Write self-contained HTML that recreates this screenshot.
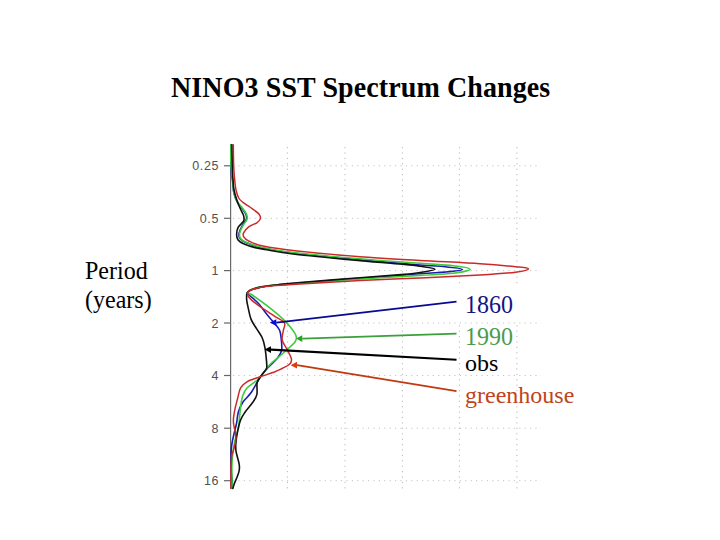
<!DOCTYPE html>
<html><head><meta charset="utf-8"><style>
html,body{margin:0;padding:0;background:#fff;width:720px;height:540px;overflow:hidden}
.lb{position:absolute;right:501px;width:60px;text-align:right;font-family:"Liberation Sans",sans-serif;font-size:12.5px;letter-spacing:0.6px;color:#505050;line-height:16px;white-space:nowrap}
.t{position:absolute;font-family:"Liberation Serif",serif;white-space:nowrap;line-height:1}
</style></head><body>
<svg width="720" height="540" viewBox="0 0 720 540" style="position:absolute;left:0;top:0">
<g stroke="#b8b8b8" stroke-width="1" stroke-dasharray="1.2 4.2" fill="none"><line x1="287.4" y1="147" x2="287.4" y2="492"/><line x1="345.0" y1="147" x2="345.0" y2="492"/><line x1="402.4" y1="147" x2="402.4" y2="492"/><line x1="459.4" y1="147" x2="459.4" y2="492"/><line x1="516.9" y1="147" x2="516.9" y2="492"/></g><g stroke="#c4c4c4" stroke-width="1" stroke-dasharray="1.2 4.2" fill="none"><line x1="233" y1="165.8" x2="541" y2="165.8"/><line x1="233" y1="218.3" x2="541" y2="218.3"/><line x1="233" y1="270.6" x2="541" y2="270.6"/><line x1="233" y1="323.0" x2="541" y2="323.0"/><line x1="233" y1="375.5" x2="541" y2="375.5"/><line x1="233" y1="428.2" x2="541" y2="428.2"/><line x1="233" y1="480.7" x2="541" y2="480.7"/></g>
<rect x="457" y="287" width="90" height="35" fill="#fff"/>
<line x1="230.6" y1="144" x2="230.6" y2="489" stroke="#6a6a6a" stroke-width="1.2"/>
<g stroke="#666" stroke-width="1.2"><line x1="224" y1="165.8" x2="230.6" y2="165.8"/><line x1="224" y1="218.3" x2="230.6" y2="218.3"/><line x1="224" y1="270.6" x2="230.6" y2="270.6"/><line x1="224" y1="323.0" x2="230.6" y2="323.0"/><line x1="224" y1="375.5" x2="230.6" y2="375.5"/><line x1="224" y1="428.2" x2="230.6" y2="428.2"/><line x1="224" y1="480.7" x2="230.6" y2="480.7"/></g>
<path d="M231.2 144.8 C231.1 147.3 230.8 155.5 230.8 160.0 C230.8 164.5 230.9 168.7 231.2 172.0 C231.5 175.3 232.1 176.7 232.5 180.0 C232.9 183.3 232.9 188.3 233.7 192.0 C234.5 195.7 235.8 199.3 237.2 202.0 C238.5 204.7 240.4 206.0 241.8 208.0 C243.2 210.0 245.0 212.4 245.8 214.2 C246.6 216.0 247.0 216.9 246.4 218.9 C245.8 220.9 243.4 223.6 242.2 225.9 C241.0 228.2 239.5 230.8 239.1 232.9 C238.7 235.0 238.8 236.8 239.8 238.3 C240.8 239.9 241.5 240.6 245.3 242.2 C249.1 243.8 254.2 246.2 262.5 248.0 C270.8 249.8 278.8 251.4 295.0 253.3 C311.2 255.2 339.2 257.6 360.0 259.5 C380.8 261.4 405.8 263.8 420.0 265.0 C434.2 266.2 437.9 265.9 445.0 266.7 C452.1 267.4 462.5 268.6 462.5 269.5 C462.5 270.4 452.1 271.4 445.0 272.1 C437.9 272.8 434.2 272.7 420.0 273.8 C405.8 274.8 380.0 276.8 360.0 278.3 C340.0 279.8 314.4 281.8 300.0 283.0 C285.6 284.2 279.8 284.6 273.3 285.3 C266.8 286.0 264.6 286.2 260.8 287.0 C257.1 287.8 253.0 289.0 250.8 290.0 C248.6 291.0 247.8 291.9 247.5 292.8 C247.2 293.7 247.5 293.4 249.3 295.2 C251.1 297.0 255.4 300.1 258.5 303.5 C261.6 306.9 265.2 312.4 267.8 315.6 C270.4 318.9 272.4 320.6 274.3 323.0 C276.2 325.4 278.4 327.5 279.5 330.0 C280.6 332.5 280.7 334.5 281.1 337.8 C281.5 341.1 282.2 346.7 281.7 350.0 C281.1 353.3 279.9 355.0 277.8 357.8 C275.7 360.6 271.5 363.9 268.9 366.7 C266.3 369.5 264.1 371.8 262.2 374.4 C260.2 377.0 259.1 379.0 257.2 382.2 C255.3 385.4 253.0 390.0 250.6 393.3 C248.2 396.6 244.9 399.1 242.8 402.2 C240.8 405.3 239.3 408.7 238.3 412.2 C237.3 415.7 237.3 419.5 236.6 423.0 C235.9 426.5 235.0 429.6 234.2 433.0 C233.4 436.4 232.5 440.2 232.0 443.4 C231.5 446.6 231.2 447.9 231.1 452.3 C231.0 456.7 231.0 465.1 231.2 470.0 C231.4 474.9 232.1 478.9 232.3 482.0 C232.5 485.1 232.5 487.4 232.5 488.5" fill="none" stroke="#1c1cb0" stroke-width="1.6" stroke-linejoin="round" stroke-linecap="round"/>
<path d="M231.0 144.8 C231.0 147.3 230.7 155.5 230.8 160.0 C230.9 164.5 231.2 168.7 231.5 172.0 C231.8 175.3 232.3 176.4 232.7 180.0 C233.1 183.6 233.2 189.6 234.0 193.3 C234.8 197.0 236.2 199.6 237.6 202.0 C239.0 204.4 240.8 206.0 242.3 208.0 C243.8 210.0 245.7 212.4 246.5 214.2 C247.3 216.0 247.7 216.9 247.1 218.9 C246.5 220.9 244.0 223.6 242.8 225.9 C241.6 228.2 240.1 230.8 239.7 232.9 C239.3 235.0 239.4 236.8 240.4 238.3 C241.4 239.9 242.1 240.6 245.9 242.2 C249.7 243.8 254.8 246.0 263.0 247.8 C271.2 249.6 278.8 251.1 295.0 252.9 C311.2 254.8 339.2 257.2 360.0 258.9 C380.8 260.6 404.4 262.1 420.0 263.3 C435.6 264.5 445.0 264.8 453.3 265.8 C461.6 266.8 470.0 267.9 470.0 269.2 C470.0 270.4 461.6 272.3 453.3 273.3 C445.0 274.3 435.6 274.5 420.0 275.4 C404.4 276.3 380.0 277.6 360.0 278.9 C340.0 280.2 313.3 282.4 300.0 283.3 C286.7 284.2 286.2 284.1 280.0 284.6 C273.8 285.1 267.7 285.6 263.0 286.4 C258.3 287.2 254.5 288.3 252.0 289.3 C249.5 290.3 248.0 291.6 248.0 292.5 C248.0 293.4 248.7 292.6 252.2 295.0 C255.7 297.4 263.7 303.1 268.9 307.2 C274.1 311.3 279.5 315.8 283.3 319.4 C287.1 322.9 289.5 326.0 291.5 328.5 C293.5 331.0 294.7 332.8 295.5 334.5 C296.3 336.2 296.5 337.2 296.4 338.5 C296.2 339.8 295.6 341.2 294.6 342.5 C293.6 343.8 291.8 345.2 290.5 346.5 C289.2 347.8 288.8 348.1 286.7 350.0 C284.6 351.9 280.8 355.2 277.8 357.8 C274.8 360.4 272.0 362.2 268.9 365.6 C265.8 369.1 262.6 374.8 259.0 378.5 C255.4 382.2 249.9 384.9 247.2 387.8 C244.5 390.7 243.9 392.5 242.8 395.6 C241.7 398.8 241.2 402.6 240.6 406.7 C240.0 410.8 239.7 416.4 239.3 420.0 C238.9 423.6 239.0 424.7 238.2 428.3 C237.4 431.9 235.6 437.7 234.7 441.7 C233.8 445.7 233.3 448.8 232.9 452.3 C232.5 455.9 232.2 458.1 232.0 463.0 C231.8 467.9 231.9 477.8 232.0 482.0 C232.1 486.2 232.2 487.4 232.3 488.5" fill="none" stroke="#3ccc3c" stroke-width="1.6" stroke-linejoin="round" stroke-linecap="round"/>
<path d="M232.0 144.8 C232.0 147.3 232.1 155.5 232.2 160.0 C232.3 164.5 232.4 168.7 232.5 172.0 C232.6 175.3 232.8 177.0 233.0 180.0 C233.2 183.0 233.4 186.7 234.0 190.0 C234.6 193.3 235.8 197.0 236.8 200.0 C237.8 203.0 238.9 205.6 240.0 208.0 C241.1 210.4 242.5 212.8 243.2 214.5 C243.9 216.2 244.0 216.8 244.0 218.0 C244.0 219.2 244.4 219.9 243.4 221.5 C242.4 223.1 239.2 225.2 238.1 227.4 C237.0 229.6 236.6 232.3 236.6 234.4 C236.6 236.5 236.9 238.3 238.1 239.9 C239.3 241.5 240.8 242.5 243.6 243.8 C246.4 245.1 251.1 246.6 255.2 247.6 C259.3 248.6 261.7 248.9 268.3 250.0 C274.9 251.1 279.7 252.4 295.0 254.2 C310.3 256.0 341.8 258.9 360.0 260.6 C378.2 262.3 394.4 263.5 404.4 264.4 C414.4 265.3 414.9 265.4 420.0 266.2 C425.1 267.1 435.0 268.2 435.0 269.2 C435.0 270.2 425.1 271.6 420.0 272.5 C414.9 273.4 414.4 273.5 404.4 274.4 C394.4 275.3 377.4 276.4 360.0 277.8 C342.6 279.2 314.4 281.3 300.0 282.5 C285.6 283.7 279.8 284.4 273.3 285.2 C266.8 286.0 264.6 286.3 260.8 287.1 C257.1 287.9 253.1 289.0 250.8 290.0 C248.5 291.0 247.8 291.2 247.1 292.9 C246.4 294.6 246.5 297.4 246.7 300.0 C246.9 302.6 247.6 305.1 248.3 308.3 C249.0 311.5 249.7 316.0 251.1 319.4 C252.5 322.8 254.8 325.8 256.7 328.9 C258.6 332.0 260.8 334.6 262.2 337.8 C263.6 341.0 264.4 344.7 265.0 347.8 C265.6 350.9 265.8 353.7 266.1 356.7 C266.4 359.7 266.8 363.9 266.8 366.0 C266.8 368.1 267.0 367.9 266.1 369.4 C265.2 370.9 263.2 372.8 261.7 375.0 C260.2 377.2 258.0 379.3 257.2 382.5 C256.4 385.7 257.6 391.1 256.9 394.4 C256.2 397.7 254.8 399.2 252.8 402.2 C250.8 405.2 247.0 409.2 245.0 412.2 C243.0 415.2 241.9 416.6 240.6 420.0 C239.3 423.4 238.1 428.8 237.3 432.8 C236.5 436.9 236.0 441.2 235.8 444.3 C235.6 447.4 235.7 448.8 236.0 451.2 C236.3 453.6 237.2 456.2 237.8 458.5 C238.4 460.8 239.1 463.0 239.3 465.0 C239.5 467.0 239.5 468.6 239.2 470.5 C238.9 472.4 238.1 474.3 237.3 476.5 C236.5 478.7 235.0 481.8 234.3 483.8 C233.6 485.8 233.1 487.6 232.9 488.3" fill="none" stroke="#111111" stroke-width="1.6" stroke-linejoin="round" stroke-linecap="round"/>
<path d="M233.3 144.8 C233.3 147.3 233.4 155.5 233.5 160.0 C233.6 164.5 233.8 168.7 234.0 172.0 C234.2 175.3 234.4 177.0 234.7 180.0 C235.0 183.0 235.3 187.0 236.0 190.0 C236.7 193.0 237.5 195.9 238.7 198.0 C239.9 200.1 241.3 201.1 243.3 202.7 C245.3 204.3 247.9 205.6 250.5 207.5 C253.1 209.4 257.5 212.3 259.1 214.2 C260.7 216.1 260.7 217.5 260.3 218.9 C259.9 220.3 258.7 221.5 256.8 222.8 C254.9 224.1 251.2 225.0 249.0 226.7 C246.8 228.4 244.5 231.2 243.6 232.9 C242.7 234.6 243.0 235.5 243.8 236.8 C244.6 238.1 245.0 239.1 248.2 240.7 C251.4 242.2 255.2 244.4 263.0 246.1 C270.8 247.8 278.8 249.0 295.0 250.8 C311.2 252.6 339.2 255.1 360.0 256.7 C380.8 258.3 400.0 259.2 420.0 260.4 C440.0 261.6 464.1 262.7 480.0 263.8 C495.9 264.8 507.5 265.9 515.6 266.7 C523.7 267.5 528.5 267.8 528.5 268.7 C528.5 269.6 523.7 271.1 515.6 272.2 C507.5 273.2 495.9 274.1 480.0 275.0 C464.1 275.9 440.0 277.0 420.0 277.9 C400.0 278.8 380.0 279.6 360.0 280.6 C340.0 281.6 314.4 283.1 300.0 284.0 C285.6 284.9 279.8 285.2 273.3 285.8 C266.8 286.4 264.6 286.6 260.8 287.3 C257.1 288.0 253.0 289.2 250.8 290.0 C248.6 290.8 248.1 291.0 247.8 292.2 C247.5 293.4 247.2 295.1 248.9 297.2 C250.6 299.3 253.6 301.9 257.8 305.0 C262.1 308.1 270.0 313.1 274.4 316.1 C278.8 319.1 282.9 320.4 284.4 322.8 C285.9 325.2 283.7 327.7 283.3 330.6 C282.9 333.5 281.6 336.9 282.2 340.0 C282.8 343.1 285.2 345.8 286.7 348.9 C288.2 352.0 290.9 356.3 291.4 358.9 C291.9 361.5 291.1 362.7 289.5 364.3 C287.9 365.9 284.4 367.3 282.0 368.5 C279.6 369.7 278.8 370.2 275.0 371.7 C271.2 373.1 263.7 375.5 259.0 377.2 C254.3 378.9 250.1 380.0 247.0 381.8 C243.9 383.6 242.1 385.1 240.6 387.8 C239.1 390.5 238.7 394.3 237.8 397.8 C236.9 401.3 235.7 405.5 235.0 408.9 C234.3 412.3 233.7 415.5 233.5 418.0 C233.3 420.5 233.3 421.7 233.6 424.0 C233.9 426.3 234.9 429.3 235.3 432.0 C235.7 434.7 236.0 437.2 235.8 440.0 C235.6 442.8 234.7 445.7 234.0 448.5 C233.3 451.3 232.1 453.2 231.6 456.8 C231.1 460.4 231.1 464.7 231.0 470.0 C230.9 475.3 231.0 485.4 231.0 488.5" fill="none" stroke="#cc2a2a" stroke-width="1.5" stroke-linejoin="round" stroke-linecap="round"/>
<line x1="456.5" y1="301.7" x2="276.3" y2="322.6" stroke="#0a0a90" stroke-width="1.7"/><polygon points="269.8,322.6 276.3,319.2 276.3,326.0" fill="#0a0ae0"/>
<line x1="456.5" y1="333.6" x2="302.3" y2="338.6" stroke="#3aa03a" stroke-width="1.7"/><polygon points="296.0,338.6 302.3,335.2 302.3,342.0" fill="#2aa02a"/>
<line x1="456.5" y1="359.8" x2="271.0" y2="349.6" stroke="#000000" stroke-width="2.1"/><polygon points="264.5,349.6 271.0,346.2 271.0,353.0" fill="#000000"/>
<line x1="456.5" y1="391.2" x2="297.0" y2="365.2" stroke="#c03a10" stroke-width="1.7"/><polygon points="290.6,365.2 297.0,361.8 297.0,368.6" fill="#e03a10"/>
</svg>
<div class="lb" style="top:158.4px">0.25</div>
<div class="lb" style="top:210.9px">0.5</div>
<div class="lb" style="top:263.2px">1</div>
<div class="lb" style="top:315.6px">2</div>
<div class="lb" style="top:368.1px">4</div>
<div class="lb" style="top:420.8px">8</div>
<div class="lb" style="top:473.3px">16</div>
<div class="t" style="left:171px;top:72.9px;font-size:28px;font-weight:bold;color:#000;letter-spacing:0.1px;transform:scaleY(1.05);transform-origin:0 0">NINO3 SST Spectrum Changes</div>
<div class="t" style="left:85px;top:258px;font-size:24px;color:#000;transform:scaleY(1.05);transform-origin:0 0">Period</div>
<div class="t" style="left:85px;top:287px;font-size:24px;color:#000;transform:scaleY(1.06);transform-origin:0 0">(years)</div>
<div class="t" style="left:465px;top:292px;font-size:24px;color:#141480;transform:scaleY(1.05);transform-origin:0 0">1860</div>
<div class="t" style="left:465px;top:323.5px;font-size:24px;color:#4a9a50;transform:scaleY(1.05);transform-origin:0 0">1990</div>
<div class="t" style="left:465px;top:351px;font-size:24px;color:#000">obs</div>
<div class="t" style="left:465px;top:383px;font-size:24px;color:#c04420">greenhouse</div>
</body></html>
